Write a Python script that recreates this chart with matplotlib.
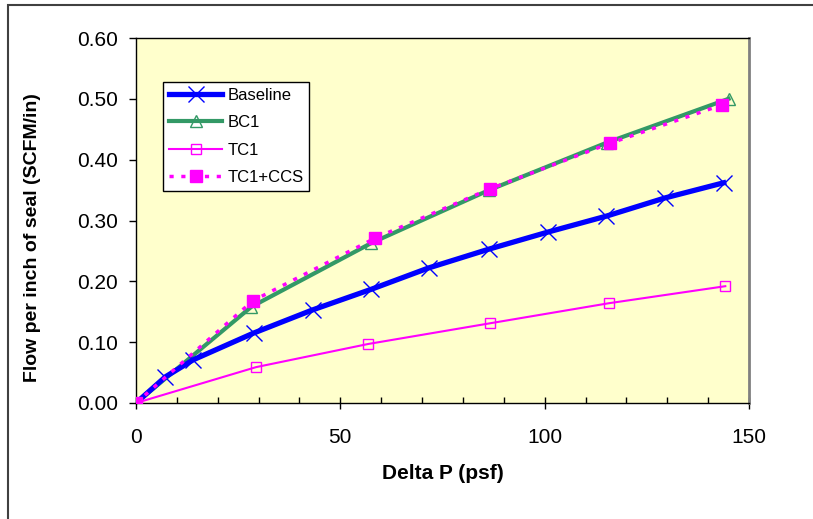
import matplotlib
matplotlib.use("Agg")
import matplotlib.pyplot as plt
from matplotlib.ticker import MultipleLocator
from matplotlib.patches import Rectangle

plt.rcParams['font.family'] = ['Liberation Sans', 'DejaVu Sans']

base_x = [0, 7.2, 14.0, 28.8, 43.2, 57.6, 71.6, 86.4, 100.8, 115.0, 129.4, 143.8]
base_y = [0, 0.043, 0.071, 0.115, 0.153, 0.187, 0.222, 0.253, 0.281, 0.307, 0.337, 0.362]

bc1_x = [0, 28.2, 57.6, 86.4, 115.2, 145.0]
bc1_y = [0, 0.158, 0.263, 0.350, 0.428, 0.500]

tc1_x = [0, 29.4, 56.8, 86.6, 115.7, 144.2]
tc1_y = [0, 0.059, 0.097, 0.131, 0.164, 0.192]

ccs_x = [0, 28.6, 58.5, 86.6, 116.0, 143.4]
ccs_y = [0, 0.168, 0.271, 0.352, 0.427, 0.490]

y_ticks = [0, 0.1, 0.2, 0.3, 0.4, 0.5, 0.6]
x_ticks = [0, 50, 100, 150]

W, H = 813, 519
fig = plt.figure(figsize=(W / 100, H / 100), dpi=100)
ax = fig.add_axes([136 / W, 1 - 403 / H, (749 - 136) / W, (403 - 38) / H])
ax.set_facecolor('#FFFFCC')

ax.plot(base_x, base_y, color='#0000FF', lw=3.8, marker='x', ms=11, mew=1.0,
        label='Baseline', zorder=3)
ax.plot(bc1_x, bc1_y, color='#339966', lw=3.0, marker='^', ms=8, mfc='none',
        mec='#339966', mew=1.0, label='BC1', zorder=2)
ax.plot(tc1_x, tc1_y, color='#FF00FF', lw=1.5, marker='s', ms=7, mfc='none',
        mec='#FF00FF', mew=1.0, label='TC1', zorder=3)
ax.plot(ccs_x, ccs_y, color='#FF00FF', lw=2.5, ls=(0, (1.2, 2.2)), marker='s', ms=8,
        mfc='#FF00FF', mec='#FF00FF', label='TC1+CCS', zorder=4)

ax.set_xlim(0, 150)
ax.set_ylim(0, 0.60)
ax.set_xticks(x_ticks)
ax.xaxis.set_minor_locator(MultipleLocator(10))
ax.set_yticks(y_ticks)
ax.set_yticklabels([f'{v:.2f}' for v in y_ticks])
ax.tick_params(axis='x', which='major', direction='inout', length=8, width=1,
               labelsize=15, pad=14)
ax.tick_params(axis='x', which='minor', direction='in', length=4, width=1)
ax.tick_params(axis='y', which='major', direction='out', length=5, width=1,
               labelsize=15, pad=8)

for s in ['left', 'bottom', 'top']:
    ax.spines[s].set_color('black')
    ax.spines[s].set_linewidth(1.0)
ax.spines['right'].set_color('#808080')
ax.spines['right'].set_linewidth(2.0)

ax.set_xlabel('Delta P (psf)', fontsize=15, fontweight='bold', labelpad=12)
ax.set_ylabel('Flow per inch of seal (SCFM/in)', fontsize=14, fontweight='bold')
ax.yaxis.set_label_coords((41 - 136) / (749 - 136), (403 - 238) / (403 - 38))

leg = ax.legend(loc='upper left', bbox_to_anchor=((163 - 136) / (749 - 136), (403 - 82) / (403 - 38)),
                fontsize=12, frameon=True, fancybox=False, edgecolor='black',
                framealpha=1, borderpad=0.35, labelspacing=0.75, handlelength=3.2,
                handletextpad=0.3, borderaxespad=0)
leg.get_frame().set_linewidth(1.0)

fig.patches.append(Rectangle((8 / W, -0.2), 1.2, 1.2 - 5 / H, transform=fig.transFigure,
                             fill=False, edgecolor='#404040', lw=1.5))

fig.savefig('out.png', dpi=100)
